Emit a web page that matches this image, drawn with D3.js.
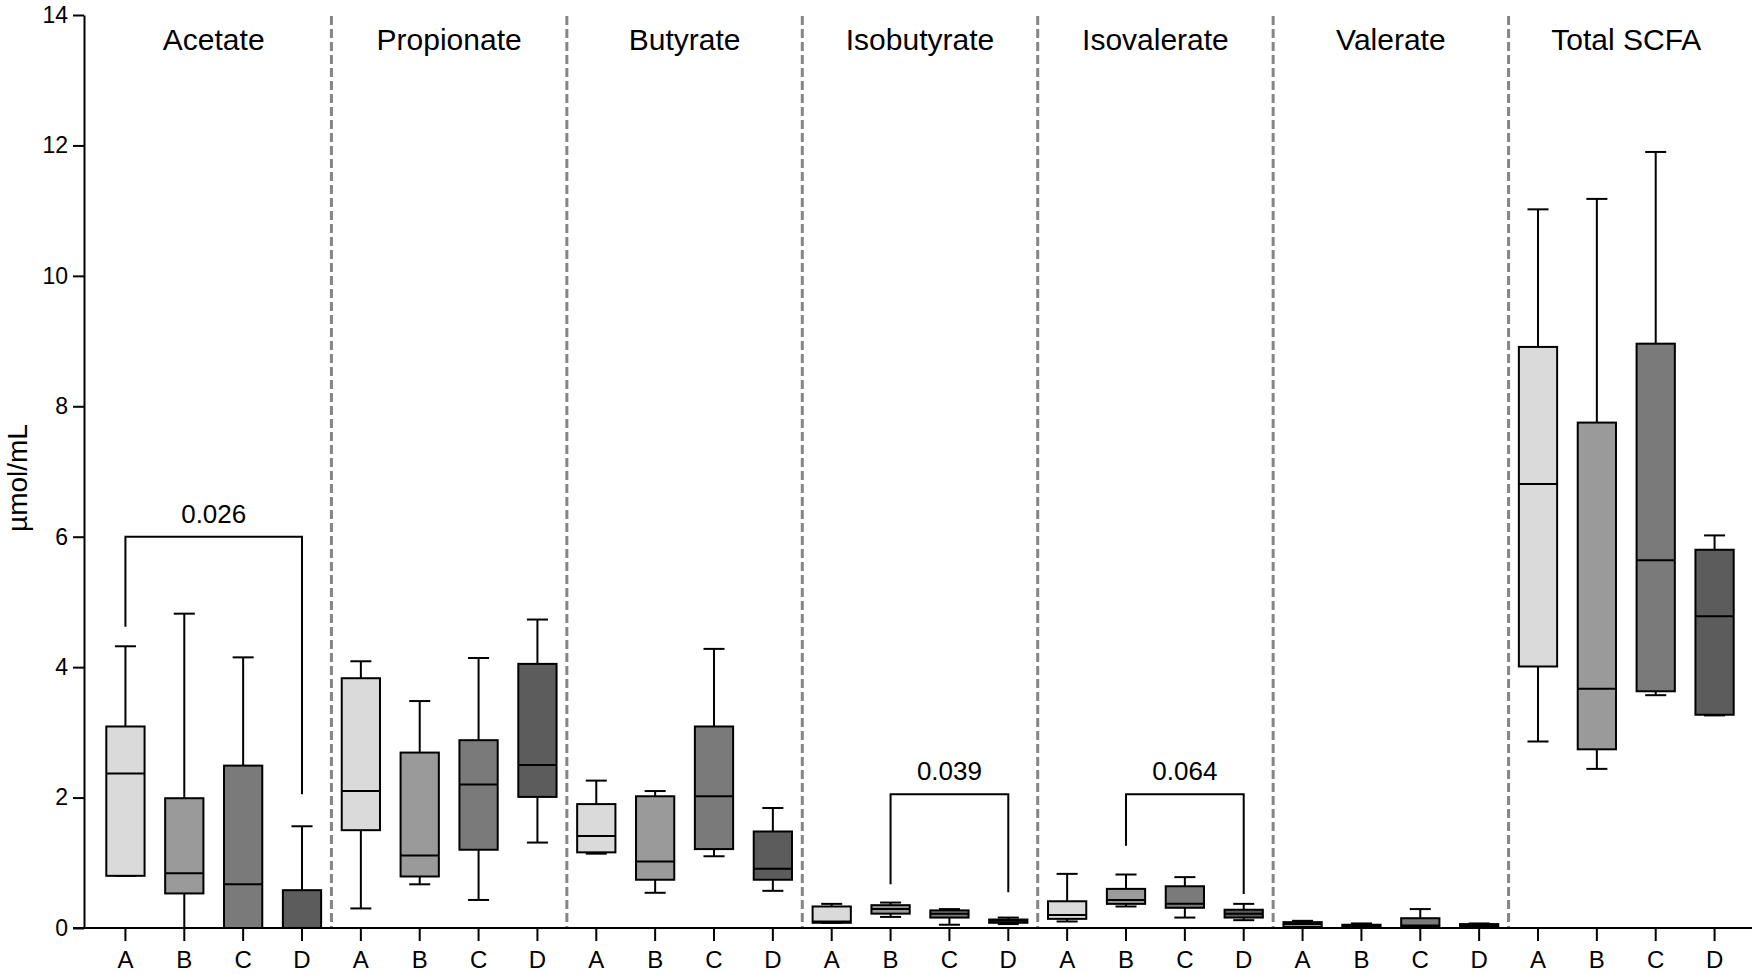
<!DOCTYPE html>
<html>
<head>
<meta charset="utf-8">
<script src="https://cdn.jsdelivr.net/npm/d3@7"></script>
<style>
  body { margin: 0; background: #fff; }
  text { font-family: "Liberation Sans", Arial, sans-serif; fill: #000; }
</style>
</head>
<body>
<script>
var width = 1760;
var height = 974;

var groups = ["Acetate", "Propionate", "Butyrate", "Isobutyrate", "Isovalerate", "Valerate", "Total SCFA"];
var cats = ["A", "B", "C", "D"];
var yTicks = [0, 2, 4, 6, 8, 10, 12, 14];

// one row per group, one value per category A-D
var whiskerLow = [
    [0.80, 0.00, 0.00, 0.00],
    [0.30, 0.67, 0.43, 1.31],
    [1.14, 0.54, 1.10, 0.57],
    [0.08, 0.17, 0.05, 0.06],
    [0.10, 0.33, 0.16, 0.12],
    [0.02, 0.02, 0.02, 0.03],
    [2.86, 2.44, 3.57, 3.26]
];
var q1 = [
    [0.80, 0.53, 0.00, 0.00],
    [1.50, 0.79, 1.20, 2.01],
    [1.16, 0.74, 1.21, 0.74],
    [0.08, 0.22, 0.16, 0.08],
    [0.14, 0.37, 0.31, 0.16],
    [0.02, 0.02, 0.03, 0.03],
    [4.01, 2.74, 3.63, 3.27]
];
var median = [
    [2.37, 0.84, 0.67, 0.00],
    [2.10, 1.11, 2.20, 2.50],
    [1.41, 1.02, 2.02, 0.91],
    [0.10, 0.29, 0.22, 0.11],
    [0.20, 0.43, 0.37, 0.22],
    [0.06, 0.04, 0.04, 0.04],
    [6.81, 3.67, 5.64, 4.78]
];
var q3 = [
    [3.09, 1.99, 2.49, 0.58],
    [3.83, 2.69, 2.88, 4.05],
    [1.90, 2.02, 3.09, 1.48],
    [0.33, 0.35, 0.27, 0.13],
    [0.41, 0.60, 0.64, 0.28],
    [0.09, 0.05, 0.15, 0.06],
    [8.91, 7.75, 8.96, 5.80]
];
var whiskerHigh = [
    [4.32, 4.82, 4.15, 1.56],
    [4.09, 3.48, 4.14, 4.73],
    [2.26, 2.10, 4.28, 1.84],
    [0.37, 0.39, 0.29, 0.16],
    [0.83, 0.82, 0.78, 0.37],
    [0.11, 0.07, 0.29, 0.07],
    [11.02, 11.18, 11.90, 6.02]
];

// significance brackets
var bracketGroup = ["Acetate", "Isobutyrate", "Isovalerate"];
var bracketFrom = ["A", "B", "B"];
var bracketTo = ["D", "D", "D"];
var bracketTop = [6.0, 2.05, 2.05];
var bracketLeftEnd = [4.62, 0.67, 1.26];
var bracketRightEnd = [2.05, 0.55, 0.52];
var pValues = ["0.026", "0.039", "0.064"];

var colors = ["#dadada", "#9a9a9a", "#7a7a7a", "#5c5c5c"];

var svg = d3.select("body").append("svg")
    .attr("width", width)
    .attr("height", height);

var axisX = 84;
var yScale = d3.scaleLinear().domain([0, 14]).range([928, 15]);

var groupScale = d3.scaleBand()
    .domain(groups)
    .range([96, 1744]);

var catScale = d3.scaleBand()
    .domain(cats)
    .range([0, groupScale.bandwidth()])
    .paddingInner(0.35)
    .paddingOuter(0.175);

function cx(g, c) {
    return groupScale(g) + catScale(c) + catScale.bandwidth() / 2;
}

// dashed separators between panels
svg.selectAll("line.sep")
    .data(groups.slice(1))
    .enter()
    .append("line")
    .attr("class", "sep")
    .attr("x1", function(d) { return groupScale(d); })
    .attr("x2", function(d) { return groupScale(d); })
    .attr("y1", yScale(14) + 1)
    .attr("y2", yScale(0))
    .attr("stroke", "#858585")
    .attr("stroke-width", 3)
    .attr("stroke-dasharray", "9,4");

// panel titles
svg.selectAll("text.title")
    .data(groups)
    .enter()
    .append("text")
    .attr("class", "title")
    .attr("x", function(d) { return groupScale(d) + groupScale.bandwidth() / 2; })
    .attr("y", 50)
    .attr("text-anchor", "middle")
    .attr("font-size", "30px")
    .text(function(d) { return d; });

// flatten the boxes
var boxes = [];
groups.forEach(function(g, gi) {
    cats.forEach(function(c, ci) {
        boxes.push({
            group: g, cat: c, ci: ci,
            lo: whiskerLow[gi][ci], q1: q1[gi][ci], med: median[gi][ci],
            q3: q3[gi][ci], hi: whiskerHigh[gi][ci]
        });
    });
});

var bw = catScale.bandwidth();
var capW = bw * 0.55;

var box = svg.selectAll("g.box")
    .data(boxes)
    .enter()
    .append("g")
    .attr("class", "box");

box.append("line")
    .attr("x1", function(d) { return cx(d.group, d.cat); })
    .attr("x2", function(d) { return cx(d.group, d.cat); })
    .attr("y1", function(d) { return yScale(d.hi); })
    .attr("y2", function(d) { return yScale(d.lo); })
    .attr("stroke", "#000")
    .attr("stroke-width", 2);

box.append("line")
    .attr("x1", function(d) { return cx(d.group, d.cat) - capW / 2; })
    .attr("x2", function(d) { return cx(d.group, d.cat) + capW / 2; })
    .attr("y1", function(d) { return yScale(d.hi); })
    .attr("y2", function(d) { return yScale(d.hi); })
    .attr("stroke", "#000")
    .attr("stroke-width", 2);

box.append("line")
    .attr("x1", function(d) { return cx(d.group, d.cat) - capW / 2; })
    .attr("x2", function(d) { return cx(d.group, d.cat) + capW / 2; })
    .attr("y1", function(d) { return yScale(d.lo); })
    .attr("y2", function(d) { return yScale(d.lo); })
    .attr("stroke", "#000")
    .attr("stroke-width", 2);

box.append("rect")
    .attr("x", function(d) { return cx(d.group, d.cat) - bw / 2; })
    .attr("y", function(d) { return yScale(d.q3); })
    .attr("width", bw)
    .attr("height", function(d) { return Math.max(yScale(d.q1) - yScale(d.q3), 1); })
    .attr("fill", function(d) { return colors[d.ci]; })
    .attr("stroke", "#000")
    .attr("stroke-width", 2);

box.append("line")
    .attr("x1", function(d) { return cx(d.group, d.cat) - bw / 2; })
    .attr("x2", function(d) { return cx(d.group, d.cat) + bw / 2; })
    .attr("y1", function(d) { return yScale(d.med); })
    .attr("y2", function(d) { return yScale(d.med); })
    .attr("stroke", "#000")
    .attr("stroke-width", 2);

// brackets with p values
var brackets = bracketGroup.map(function(g, i) {
    return {
        x1: cx(g, bracketFrom[i]), x2: cx(g, bracketTo[i]),
        top: bracketTop[i], left: bracketLeftEnd[i], right: bracketRightEnd[i],
        label: pValues[i]
    };
});

svg.selectAll("path.bracket")
    .data(brackets)
    .enter()
    .append("path")
    .attr("class", "bracket")
    .attr("d", function(d) {
        return "M" + d.x1 + "," + yScale(d.left) +
            "V" + yScale(d.top) +
            "H" + d.x2 +
            "V" + yScale(d.right);
    })
    .attr("fill", "none")
    .attr("stroke", "#000")
    .attr("stroke-width", 2);

svg.selectAll("text.pval")
    .data(brackets)
    .enter()
    .append("text")
    .attr("class", "pval")
    .attr("x", function(d) { return (d.x1 + d.x2) / 2; })
    .attr("y", function(d) { return yScale(d.top) - 14; })
    .attr("text-anchor", "middle")
    .attr("font-size", "26px")
    .text(function(d) { return d.label; });

// y axis
var yAxis = d3.axisLeft(yScale)
    .tickValues(yTicks)
    .tickSize(11)
    .tickPadding(5)
    .tickSizeOuter(0);

var gy = svg.append("g")
    .attr("transform", "translate(" + axisX + ",0)")
    .call(yAxis);
gy.select(".domain").attr("stroke-width", 2);
gy.selectAll(".tick line").attr("stroke-width", 2);
gy.selectAll(".tick text")
    .attr("font-size", "23px")
    .attr("font-family", "Liberation Sans, Arial, sans-serif")
    .attr("fill", "#000");

// x axis: one tick per box
var gx = svg.append("g").attr("class", "xaxis");
gx.append("line")
    .attr("x1", axisX - 11)
    .attr("x2", 1752)
    .attr("y1", yScale(0))
    .attr("y2", yScale(0))
    .attr("stroke", "#000")
    .attr("stroke-width", 2);

var xt = gx.selectAll("g.xtick")
    .data(boxes)
    .enter()
    .append("g")
    .attr("class", "xtick")
    .attr("transform", function(d) { return "translate(" + cx(d.group, d.cat) + "," + yScale(0) + ")"; });

xt.append("line")
    .attr("y1", 0)
    .attr("y2", 13)
    .attr("stroke", "#000")
    .attr("stroke-width", 2);

xt.append("text")
    .attr("y", 40)
    .attr("text-anchor", "middle")
    .attr("font-size", "24px")
    .text(function(d) { return d.cat; });

// y axis title
svg.append("text")
    .attr("transform", "translate(27," + yScale(6.9) + ") rotate(-90)")
    .attr("text-anchor", "middle")
    .attr("font-size", "28px")
    .text("µmol/mL");
</script>
</body>
</html>
